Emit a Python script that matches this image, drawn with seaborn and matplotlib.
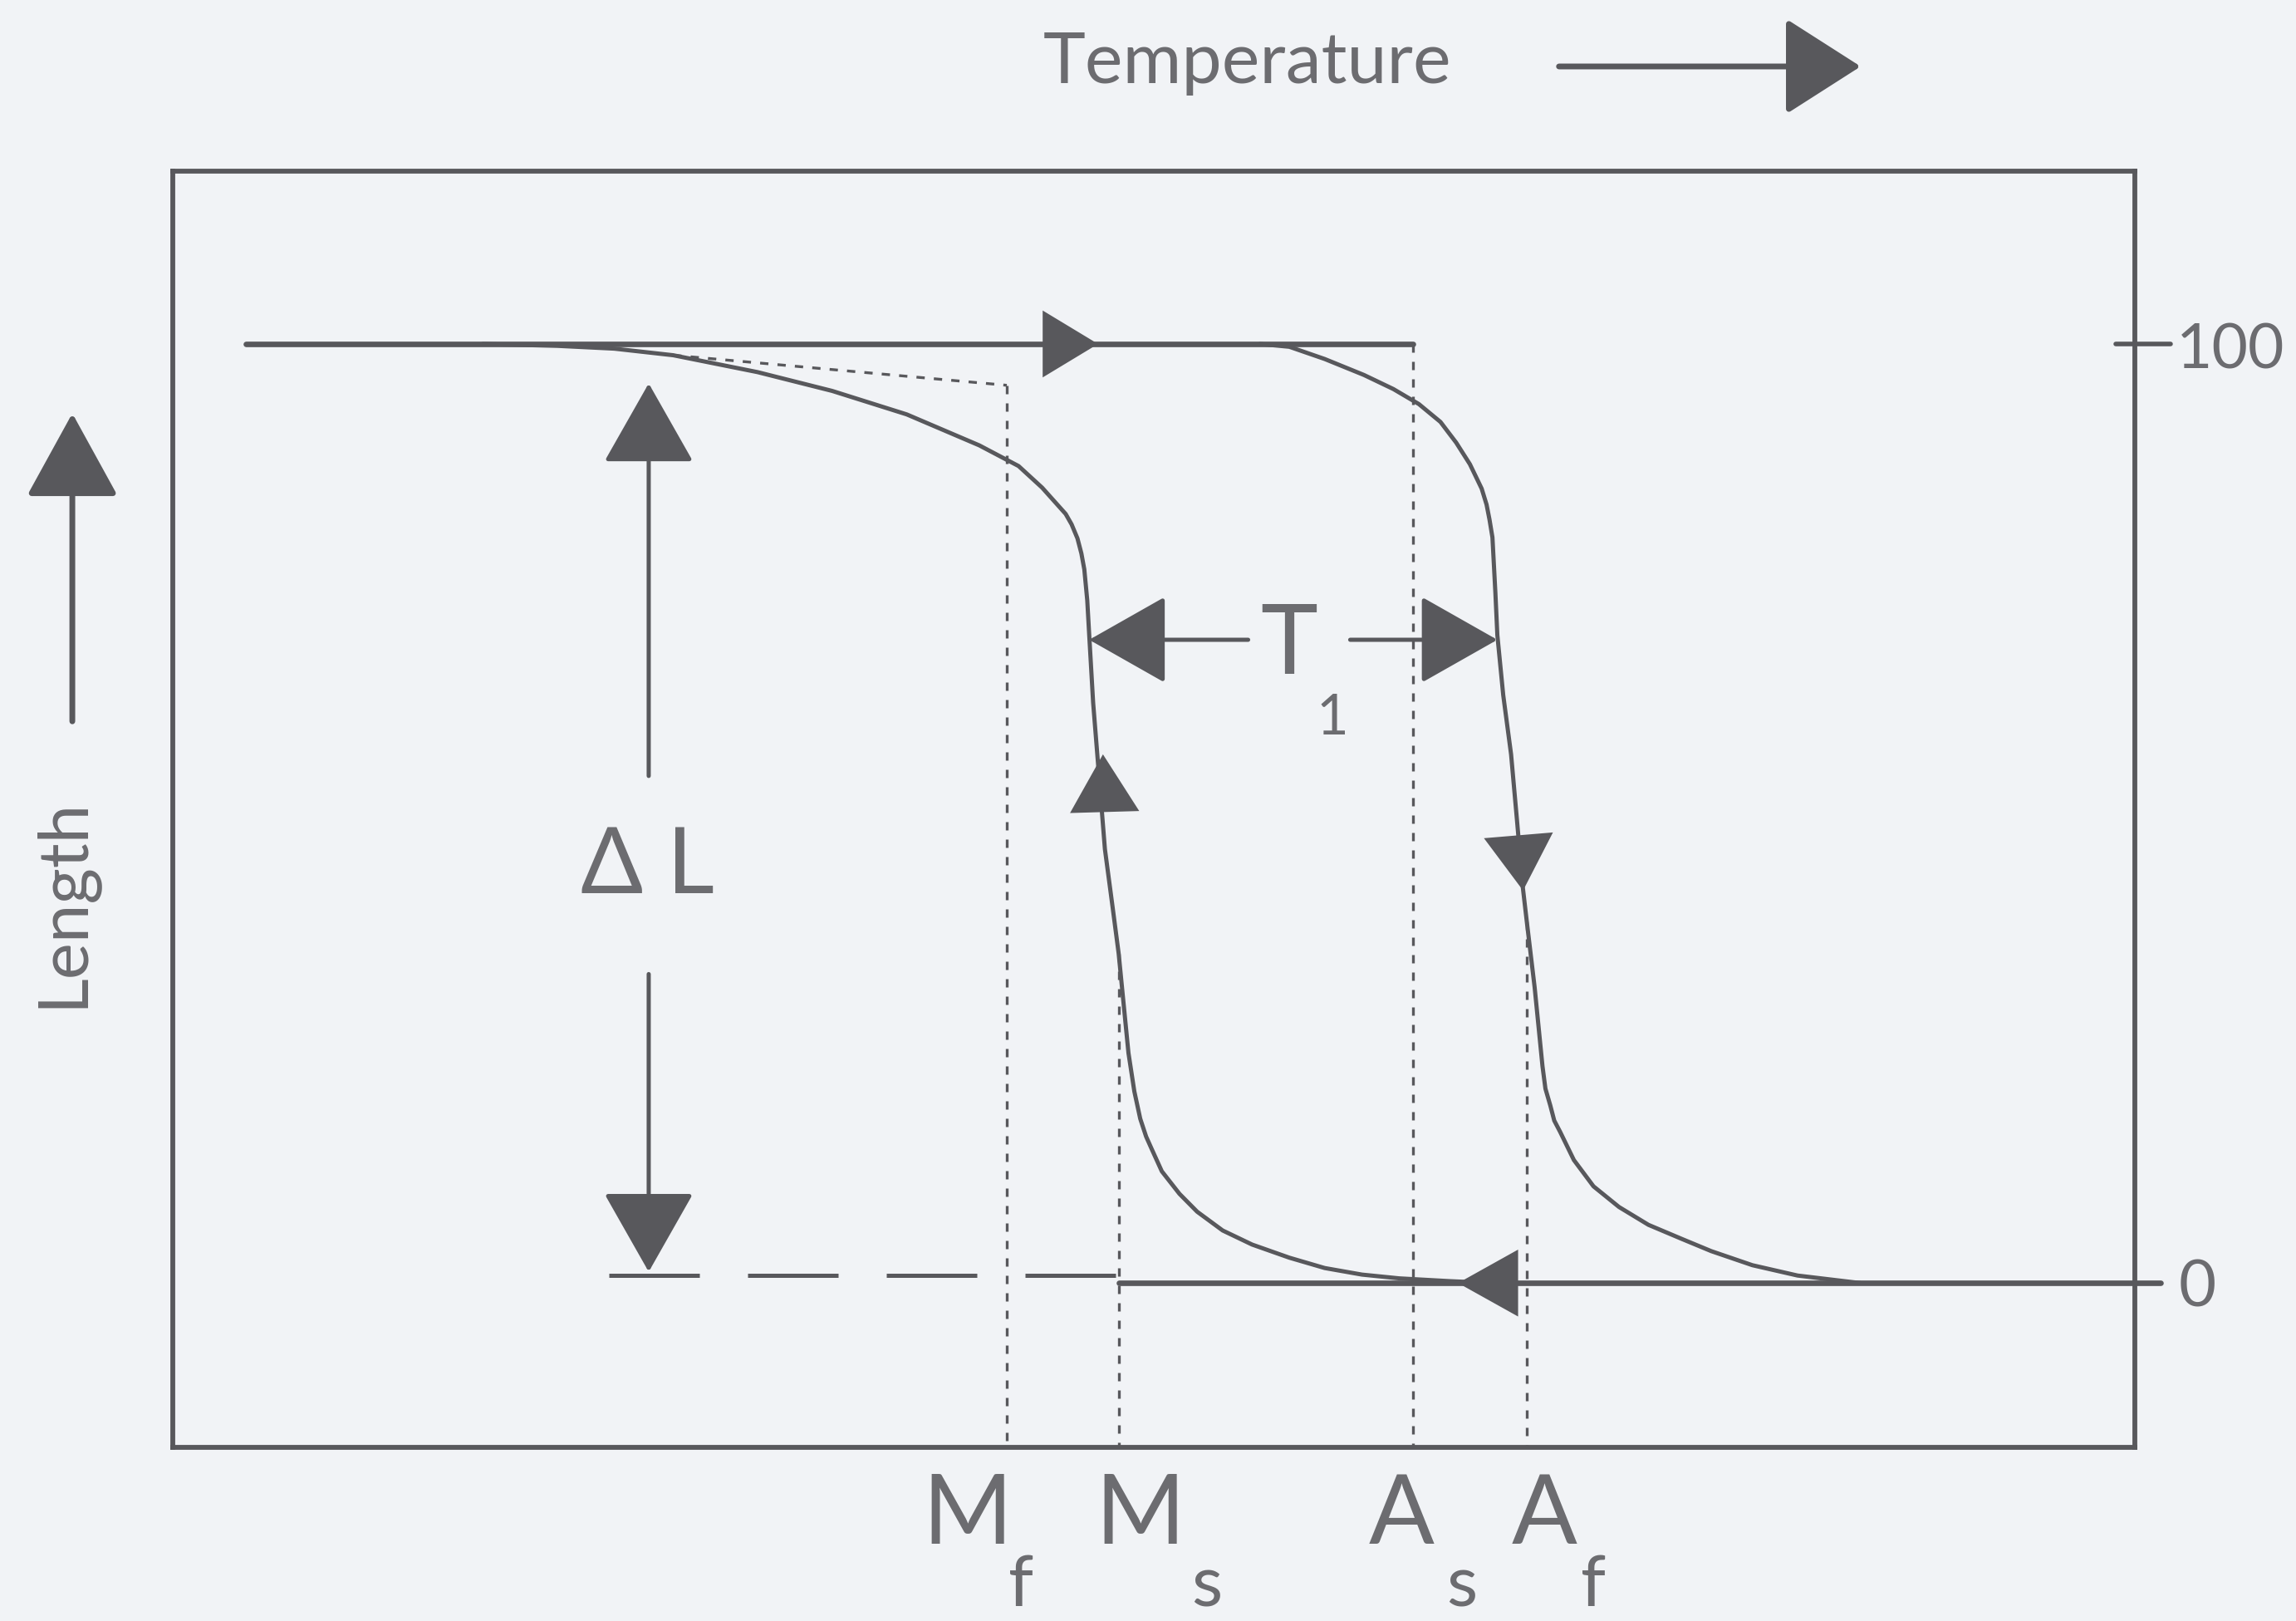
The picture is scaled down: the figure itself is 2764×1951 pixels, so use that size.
"""
Shape memory alloy: length vs temperature hysteresis loop.
"""

import matplotlib
matplotlib.use('Agg')
import matplotlib.pyplot as plt
import seaborn as sns

# temperature runs 0-100 across the frame, length in % of the full change
TOP_X = [3.7, 63.2]
TOP_Y = [100, 100]
BOTTOM_X = [48.2, 101.3]
BOTTOM_Y = [0, 0]
DASH_X = [22.24, 48.2]
DASH_Y = [0.8, 0.8]

# cooling branch (martensite forms)
COOL_X = [15.8, 19.6, 22.5, 25.5, 29.8, 33.6, 37.4, 41.1, 43.1, 44.3,
          45.5, 45.8, 46.1, 46.3, 46.45, 46.6, 46.7, 46.9, 47.2, 47.5,
          47.9, 48.2, 48.7, 49.0, 49.3, 49.6, 49.9, 50.4, 51.3, 52.2,
          53.5, 55.0, 56.9, 58.7, 60.6, 62.5, 65.1, 67.3]
COOL_Y = [100.0, 99.8, 99.5, 98.8, 97.0, 95.0, 92.5, 89.2, 87.0, 84.7,
          81.9, 80.8, 79.3, 77.7, 76.0, 72.7, 69.0, 61.8, 54.0, 46.2,
          39.9, 35.1, 24.5, 20.4, 17.5, 15.6, 14.2, 11.9, 9.5, 7.6,
          5.6, 4.1, 2.7, 1.6, 0.9, 0.5, 0.2, 0.0]

# heating branch (austenite forms)
HEAT_X = [55.4, 56.9, 58.7, 60.7, 62.2, 63.5, 64.6, 65.4, 66.1, 66.7,
          66.95, 67.1, 67.25, 67.4, 67.5, 67.8, 68.2, 68.5, 68.8, 69.0,
          69.4, 69.8, 69.95, 70.2, 70.4, 70.7, 71.4, 72.4, 73.7, 75.2,
          76.9, 78.4, 80.5, 82.8, 86.0]
HEAT_Y = [100.0, 99.7, 98.4, 96.7, 95.2, 93.6, 91.7, 89.5, 87.2, 84.6,
          82.9, 81.3, 79.4, 73.5, 69.0, 62.6, 56.3, 49.3, 42.1, 38.5,
          31.5, 23.1, 20.7, 18.9, 17.3, 16.1, 13.1, 10.3, 8.1, 6.2,
          4.7, 3.4, 1.9, 0.8, 0.0]

# transformation temperatures Mf, Ms, As, Af
TRANS_NAMES = ['M', 'M', 'A', 'A']
TRANS_SUBS = ['f', 's', 's', 'f']
TRANS_X = [42.5, 48.2, 63.2, 69.0]
TRANS_TOP = [95.6, 35.1, 100.0, 38.5]
MF_GUIDE_X = [25.5, 42.5]
MF_GUIDE_Y = [98.8, 95.6]

LENGTH_TICKS = [100, 0]
LENGTH_LABELS = ['100', '0']

LINE = '#58585c'
TEXT = '#6c6c70'
PAPER = '#f1f3f6'
YMIN, YMAX = -17.5, 118.4


def head(ax, tail, tip, length, half, lw=0.0, coords='data'):
    """Filled triangular arrow head (with optional shaft) from tail to tip."""
    ax.annotate('', xy=tip, xytext=tail, xycoords=coords, textcoords=coords,
                annotation_clip=False,
                arrowprops=dict(arrowstyle=f'-|>,head_length={length},head_width={half}',
                                mutation_scale=1, color=LINE, lw=lw,
                                shrinkA=0, shrinkB=0))


sns.set_theme(style='white')
plt.rcParams['font.family'] = ['Lato', 'DejaVu Sans']

fig = plt.figure(figsize=(13.82, 9.755), dpi=200, facecolor=PAPER)
ax = fig.add_axes([0.0753, 0.1071, 0.8546, 0.7873])
ax.set_facecolor(PAPER)
ax.set_xlim(0, 100)
ax.set_ylim(YMIN, YMAX)
ax.set_xticks([])
ax.set_yticks([])
for sp in ax.spines.values():
    sp.set_color(LINE)
    sp.set_linewidth(2.1)

# loop
sns.lineplot(x=TOP_X, y=TOP_Y, color=LINE, lw=2.4, ax=ax)
sns.lineplot(x=BOTTOM_X, y=BOTTOM_Y, color=LINE, lw=2.4, ax=ax, clip_on=False)
sns.lineplot(x=COOL_X, y=COOL_Y, sort=False, estimator=None, color=LINE, lw=1.8,
             solid_joinstyle='round', ax=ax)
sns.lineplot(x=HEAT_X, y=HEAT_Y, sort=False, estimator=None, color=LINE, lw=1.8,
             solid_joinstyle='round', ax=ax)
ax.plot(DASH_X, DASH_Y, color=LINE, lw=1.8, ls=(0, (21.8, 11.6)))

# dotted guides down to the temperature axis
dots = (0, (3, 3.3))
ax.plot(MF_GUIDE_X, MF_GUIDE_Y, color=LINE, lw=1.2, ls=dots)
for tx, ty in zip(TRANS_X, TRANS_TOP):
    ax.plot([tx, tx], [ty, YMIN], color=LINE, lw=1.2, ls=dots)

# direction heads on the loop
head(ax, (44.0, 100), (47.15, 100), 24, 14.5)
head(ax, (47.54, 46.2), (47.4, 56.3), 25, 15)
head(ax, (68.51, 49.3), (68.81, 41.8), 24, 15)
head(ax, (68.5, 0), (65.5, 0), 26, 14.5)

# delta L
head(ax, (24.25, 54.0), (24.25, 95.8), 31, 17.6, lw=1.8)
head(ax, (24.25, 32.9), (24.25, 1.2), 31, 17.6, lw=1.8)
ax.text(24.2, 41.5, 'Δ L', ha='center', va='baseline', fontsize=40, color=TEXT)

# T1 hysteresis width
head(ax, (54.8, 68.5), (46.7, 68.5), 30, 17, lw=1.8)
head(ax, (60.0, 68.5), (67.5, 68.5), 30, 17, lw=1.8)
ax.text(56.9, 64.9, 'T', ha='center', va='baseline', fontsize=42, color=TEXT)
ax.text(59.1, 58.4, '1', ha='center', va='baseline', fontsize=24, color=TEXT)

# transformation temperature labels
name_x = [40.5, 49.3, 62.6, 69.9]
sub_x = [43.2, 52.7, 65.7, 72.4]
for nm, sb, nx, sx in zip(TRANS_NAMES, TRANS_SUBS, name_x, sub_x):
    ax.text(nx, -27.8, nm, ha='center', va='baseline', fontsize=42, color=TEXT)
    ax.text(sx, -34.4, sb, ha='center', va='baseline', fontsize=31, color=TEXT)

# right-hand length scale
ax.plot([99.0, 101.8], [LENGTH_TICKS[0]] * 2, color=LINE, lw=2.0, clip_on=False)
ax.text(102.1, LENGTH_TICKS[0] - 2.6, LENGTH_LABELS[0], ha='left', va='baseline',
        fontsize=27, color=TEXT)
ax.text(102.2, LENGTH_TICKS[1] - 2.5, LENGTH_LABELS[1], ha='left', va='baseline',
        fontsize=28, color=TEXT)

# axis captions with arrows outside the frame
fig.text(0.5434, 0.9487, 'Temperature', ha='center', va='baseline', fontsize=31, color=TEXT)
head(ax, (0.679, 0.959), (0.8104, 0.959), 28.8, 18.4, lw=2.5, coords='figure fraction')
fig.text(0.0275, 0.4434, 'Length', ha='center', va='center', rotation=90, fontsize=30, color=TEXT)
head(ax, (0.0315, 0.555), (0.0315, 0.745), 32, 17.6, lw=2.5, coords='figure fraction')

fig.savefig('out.png', dpi=200, facecolor=PAPER)
